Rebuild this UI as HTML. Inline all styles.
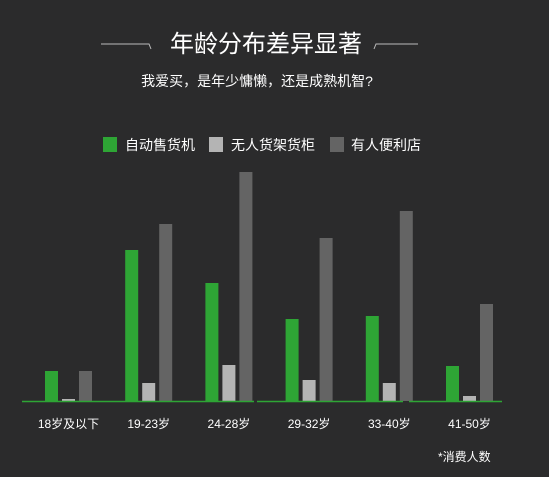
<!DOCTYPE html>
<html><head><meta charset="utf-8"><style>
body{margin:0;background:#2b2b2c;}
svg{display:block;font-family:"Liberation Sans","Noto Sans CJK SC",sans-serif;}
</style></head><body>
<svg id="chart" width="549" height="477" viewBox="0 0 549 477">
<rect width="549" height="477" fill="#2b2b2c"/>
<g stroke="#bbb" stroke-width="1" fill="none">
<path d="M101 44 H149 L151 49"/></g>
<g stroke="#bbb" stroke-width="1" fill="none">
<path d="M418 44 H376 L374 49"/></g>
<text x="266" y="52" text-anchor="middle" fill="#fff" font-size="24">年龄分布差异显著</text>
<text x="257" y="86" text-anchor="middle" fill="#fff" font-size="14">我爱买，是年少慵懒，还是成熟机智?</text>
<g>
<rect x="103" y="137" width="14" height="15" fill="#2ea535"/>
<text x="125" y="150" fill="#fff" font-size="14">自动售货机</text>
<rect x="209" y="137" width="14" height="15" fill="#b4b4b4"/>
<text x="231" y="150" fill="#fff" font-size="14">无人货架货柜</text>
<rect x="330" y="137" width="14" height="15" fill="#646464"/>
<text x="351" y="150" fill="#fff" font-size="14">有人便利店</text>
</g>
<g id="bars"></g>
<g stroke="#2ea535" stroke-width="1.5">
<line x1="22" y1="401.5" x2="254" y2="401.5"/>
<line x1="257" y1="401.5" x2="403" y2="401.5"/>
<line x1="409" y1="401.5" x2="502" y2="401.5"/>
</g>
<g id="labels"></g>
<text x="438" y="461" fill="#fff" font-size="12">*消费人数</text>
</svg>
<script>
const categories=["18岁及以下","19-23岁","24-28岁","29-32岁","33-40岁","41-50岁"];
const vending=[30,151,118,82,85,35];
const shelf=[2,18,36,21,18,5];
const store=[30,177,229,163,190,97];
const NS="http://www.w3.org/2000/svg";
const base=401, x0=45, pitch=80.2, bw=13;
function xPos(i,s){return x0+i*pitch+s*17;}
function yPos(v){return base-v;}
const series=[[vending,"#2ea535","vending"],[shelf,"#b4b4b4","shelf"],[store,"#646464","store"]];
const bars=document.getElementById("bars"), labels=document.getElementById("labels");
categories.forEach((c,i)=>{
  series.forEach((s,k)=>{
    const r=document.createElementNS(NS,"rect");
    r.setAttribute("x",xPos(i,k));r.setAttribute("y",yPos(s[0][i]));
    r.setAttribute("width",bw);r.setAttribute("height",base-yPos(s[0][i]));
    r.setAttribute("fill",s[1]);
    
    
    bars.appendChild(r);
  });
  const t=document.createElementNS(NS,"text");
  t.setAttribute("x",xPos(i,1)+bw/2);t.setAttribute("y",428);
  t.setAttribute("text-anchor","middle");t.setAttribute("fill","#fff");t.setAttribute("font-size","12");
  t.textContent=c;
  
  
  labels.appendChild(t);
});
</script>
</body></html>
